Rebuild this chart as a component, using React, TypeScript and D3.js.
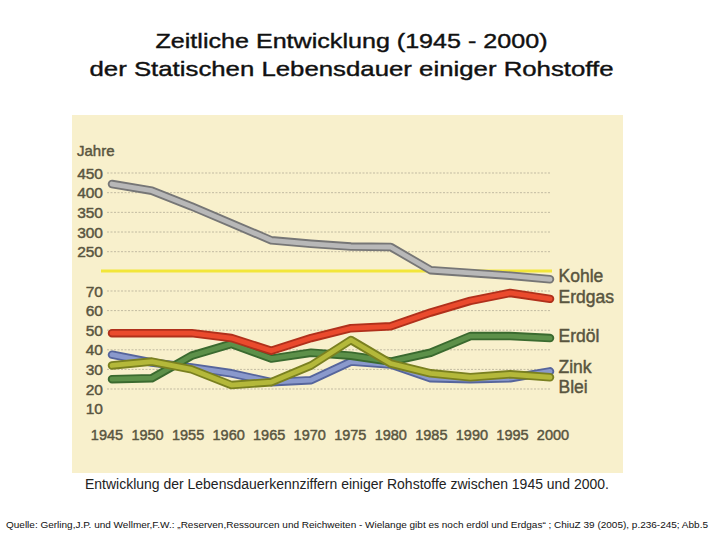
import React from 'react';
import * as d3 from 'd3';

const years = [1945, 1950, 1955, 1960, 1965, 1970, 1975, 1980, 1985, 1990, 1995, 2000];
const kohle = [422, 405, 365, 322, 279, 270, 263, 262, 203, 196, 189, 180];
const erdgas = [48.5, 48.5, 48.5, 46, 39.5, 46, 51, 52, 59, 65, 69, 66];
const erdoel = [25, 25.5, 37, 43, 35.5, 38.5, 37, 34, 38.5, 47, 47, 46];
const zink = [37.5, 33.5, 31, 28, 23.5, 24.5, 34, 32.5, 25.5, 25, 25.5, 29];
const blei = [32, 34, 30, 22, 23.5, 32, 45, 33, 28, 26, 27.5, 26];

const upperTicks = [450, 400, 350, 300, 250];
const lowerTicks = [70, 60, 50, 40, 30, 20, 10];
const lowerGrid = [70, 60, 50, 40, 30, 20];

const titleLines = ['Zeitliche Entwicklung (1945 - 2000)', 'der Statischen Lebensdauer einiger Rohstoffe'];
const caption = 'Entwicklung der Lebensdauerkennziffern einiger Rohstoffe zwischen 1945 und 2000.';
const source = 'Quelle: Gerling,J.P. und Wellmer,F.W.: \u201eReserven,Ressourcen und Reichweiten - Wielange gibt es noch erdöl und Erdgas\u201c ; ChiuZ 39 (2005), p.236-245; Abb.5';

const FONT = "'Liberation Sans', Arial, sans-serif";
const TEXT = '#59553f';

type Series = { name: string; values: number[]; upper: boolean; outer: string; inner: string; labelDy: number };

const series: Series[] = [
  { name: 'Zink', values: zink, upper: false, outer: '#56659c', inner: '#8a99cc', labelDy: -4 },
  { name: 'Erdöl', values: erdoel, upper: false, outer: '#3a6a2f', inner: '#5c9049', labelDy: -2 },
  { name: 'Blei', values: blei, upper: false, outer: '#7a8020', inner: '#b4b83a', labelDy: 10 },
  { name: 'Erdgas', values: erdgas, upper: false, outer: '#b0301b', inner: '#ea4a2d', labelDy: -2 },
  { name: 'Kohle', values: kohle, upper: true, outer: '#767676', inner: '#b8b8b8', labelDy: -3 },
];

export default function App() {
  const x = d3.scaleLinear().domain([1945, 2000]).range([112, 550]);
  const xLabel = d3.scaleLinear().domain([1945, 2000]).range([107, 553]);
  const yUp = d3.scaleLinear().domain([250, 450]).range([251.7, 173]);
  const yLow = d3.scaleLinear().domain([20, 70]).range([389, 291]);
  const breakY = 271;

  const lineFor = (s: Series) =>
    d3
      .line<number>()
      .x((_, i) => x(years[i]))
      .y((v) => (s.upper ? yUp(v) : yLow(v)))
      .curve(d3.curveLinear)(s.values) as string;

  const bold = { stroke: TEXT, strokeWidth: 0.45 };

  return (
    <svg
      width={720}
      height={540}
      style={{ position: 'absolute', left: 0, top: 0, background: '#ffffff' }}
      fontFamily={FONT}
    >
      {titleLines.map((t, i) => (
        <text
          key={t}
          x={351.5}
          y={47.5 + i * 28.5}
          textAnchor="middle"
          fontSize={21}
          fill="#111"
          stroke="#111"
          strokeWidth={0.4}
          textLength={i === 0 ? 392 : 524}
          lengthAdjust="spacingAndGlyphs"
        >
          {t}
        </text>
      ))}

      <rect x={72} y={115} width={551} height={358} fill="#f8f0cc" />

      <text x={77} y={150} fontSize={15} fill={TEXT} {...bold} dominantBaseline="central">
        Jahre
      </text>

      {upperTicks.map((t) => (
        <g key={'u' + t}>
          <line x1={107} x2={550} y1={yUp(t)} y2={yUp(t)} stroke="#c2bba2" strokeWidth={1} strokeDasharray="2,1.5" />
          <text x={103} y={yUp(t)} textAnchor="end" dominantBaseline="central" fontSize={15.5} fill={TEXT} {...bold}>
            {t}
          </text>
        </g>
      ))}
      {lowerGrid.map((t) => (
        <line key={'g' + t} x1={107} x2={550} y1={yLow(t)} y2={yLow(t)} stroke="#c2bba2" strokeWidth={1} strokeDasharray="2,1.5" />
      ))}
      {lowerTicks.map((t) => (
        <text key={'l' + t} x={103} y={yLow(t)} textAnchor="end" dominantBaseline="central" fontSize={15.5} fill={TEXT} {...bold}>
          {t}
        </text>
      ))}

      {years.map((yr) => (
        <text key={yr} x={xLabel(yr)} y={434.5} textAnchor="middle" dominantBaseline="central" fontSize={14.5} fill={TEXT} {...bold}>
          {yr}
        </text>
      ))}

      <line x1={101} x2={552} y1={breakY} y2={breakY} stroke="#f2e63a" strokeWidth={3} />

      {series.map((s) => {
        const d = lineFor(s);
        return (
          <g key={s.name}>
            <path d={d} fill="none" stroke={s.outer} strokeWidth={8.5} strokeLinejoin="round" strokeLinecap="round" />
            <path d={d} fill="none" stroke={s.inner} strokeWidth={4.8} strokeLinejoin="round" strokeLinecap="round" />
          </g>
        );
      })}

      {series.map((s) => {
        const last = s.values[s.values.length - 1];
        const yy = (s.upper ? yUp(last) : yLow(last)) + s.labelDy;
        return (
          <text key={'lab' + s.name} x={x(2000) + 8.5} y={yy} dominantBaseline="central" fontSize={17.5} fill={TEXT} {...bold}>
            {s.name}
          </text>
        );
      })}

      <text x={347} y={489} textAnchor="middle" fontSize={14} fill="#222" textLength={524} lengthAdjust="spacingAndGlyphs">
        {caption}
      </text>
      <text x={357} y={528} textAnchor="middle" fontSize={9.5} fill="#111" textLength={702} lengthAdjust="spacingAndGlyphs">
        {source}
      </text>
    </svg>
  );
}
